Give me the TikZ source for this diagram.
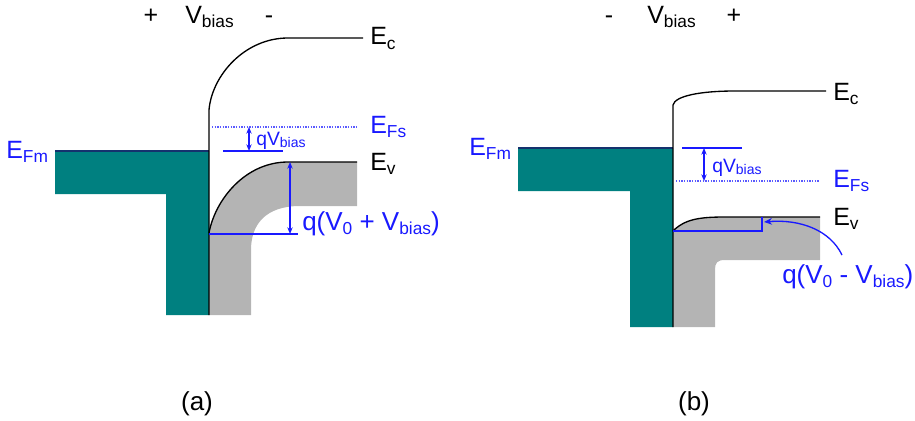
\documentclass[tikz,border=0pt]{standalone}
\usepackage{fontspec}
\setmainfont{Liberation Sans}
\usetikzlibrary{arrows.meta}
\definecolor{metal}{RGB}{0,128,128}
\definecolor{semi}{RGB}{180,180,180}
\definecolor{lblue}{RGB}{25,25,255}
\definecolor{dotblue}{RGB}{90,90,255}
\definecolor{efmline}{RGB}{20,50,110}
\newcommand\bsub[1]{\raisebox{-3.5pt}{\fontsize{13}{14}\selectfont #1}}
\newcommand\ssub[1]{\raisebox{-2pt}{\fontsize{10.5}{12}\selectfont #1}}
\begin{document}
\begin{tikzpicture}[x=0.75pt,y=-0.75pt,
  lab/.style={inner sep=0pt,anchor=base west,font=\fontsize{18.75}{22}\selectfont},
  clab/.style={inner sep=0pt,anchor=base,font=\fontsize{18.75}{22}\selectfont},
  slab/.style={inner sep=0pt,anchor=base west,font=\fontsize{14.5}{17}\selectfont,text=lblue},
  band/.style={line width=1pt,black},
  bluel/.style={line width=1.1pt,lblue},
  dbl/.style={line width=1pt,lblue,{Stealth[length=5pt,width=4pt]}-{Stealth[length=5pt,width=4pt]}},
  tipped/.style={line width=1pt,lblue,-{Stealth[length=6pt,width=5pt]}},
  fermi/.style={line width=0.9pt,dotblue,dash pattern=on 1pt off 1pt}]
\useasboundingbox (0,0) rectangle (915,421);

% ================= panel (a) =================
\fill[metal] (55,151) -- (209,151) -- (209,315) -- (166,315) -- (166,194) -- (55,194) -- cycle;
\draw[line width=1pt,efmline] (55,151) -- (209,151);
\fill[semi] (209,233) .. controls (215,200) and (245,162) .. (288,162) -- (357,162) -- (357,206)
  -- (300,206) .. controls (265,206) and (251,225) .. (251,250) -- (251,315) -- (209,315) -- cycle;
\draw[band] (209,315) -- (209,110) .. controls (212,75) and (245,38) .. (288,38) -- (363,38);
\draw[band] (209,233) .. controls (215,200) and (245,162) .. (288,162) -- (357,162);

\coordinate (aFs1) at (212,127); \coordinate (aFs2) at (357,127);
\draw[fermi] (aFs1) -- (aFs2);
\coordinate (aq1) at (223,151); \coordinate (aq2) at (283,151);
\draw[bluel] (aq1) -- (aq2);
\coordinate (aqt) at (249,127); \coordinate (aqb) at (249,151);
\draw[dbl] (aqt) -- (aqb);
\coordinate (aV1) at (209,234); \coordinate (aV2) at (298,234);
\draw[bluel] (aV1) -- (aV2);
\coordinate (aVt) at (290,162); \coordinate (aVb) at (290,234);
\draw[dbl] (aVt) -- (aVb);

\node[clab] (aplus) at (151,23) {+};
\node[lab] (avb) at (185,23) {V\bsub{bias}};
\node[clab] (aminus) at (269,23) {-};
\node[lab] (aEc) at (370,45) {E\bsub{c}};
\node[lab,text=lblue] (aEFs) at (370,133) {E\bsub{Fs}};
\node[lab] (aEv) at (370,170) {E\bsub{v}};
\node[lab,text=lblue] (aEFm) at (6,158) {E\bsub{Fm}};
\node[slab] (aqV) at (256,145) {qV\ssub{bias}};
\node[lab,text=lblue,font=\fontsize{19.5}{22}\selectfont] (aqV0) at (302,230) {q(V\bsub{0} + V\bsub{bias})};
\node[clab,font=\fontsize{19.5}{22}\selectfont] (acap) at (197,410) {(a)};

% ================= panel (b) =================
\fill[metal] (518,148) -- (673,148) -- (673,327) -- (630,327) -- (630,191) -- (518,191) -- cycle;
\draw[line width=1pt,efmline] (518,148) -- (673,148);
\fill[semi] (673,231) .. controls (685,219) and (700,217) .. (725,217) -- (820,217) -- (820,260)
  -- (725,260) .. controls (717,260) and (715,263) .. (715,270) -- (715,327) -- (673,327) -- cycle;
\draw[band] (673,327) -- (673,105) .. controls (675,96) and (700,91) .. (735,91) -- (826,91);
\draw[band] (673,231) .. controls (685,219) and (700,217) .. (725,217) -- (820,217);

\coordinate (bq1) at (682,148); \coordinate (bq2) at (742,148);
\draw[bluel] (bq1) -- (bq2);
\coordinate (bqt) at (704,148); \coordinate (bqb) at (704,181);
\draw[dbl] (bqt) -- (bqb);
\coordinate (bFs1) at (676,181); \coordinate (bFs2) at (820,181);
\draw[fermi] (bFs1) -- (bFs2);
\coordinate (bV1) at (673,231); \coordinate (bV2) at (762,231); \coordinate (bV3) at (762,217);
\draw[bluel] (bV1) -- (bV2) -- (bV3);
\coordinate (bArrS) at (842,255); \coordinate (bArrE) at (764,222);
\draw[tipped] (bArrS) .. controls (830,230) and (800,219) .. (bArrE);

\node[clab] (bminus) at (609,23) {-};
\node[lab] (bvb) at (647,23) {V\bsub{bias}};
\node[clab] (bplus) at (734,23) {+};
\node[lab] (bEc) at (833,100) {E\bsub{c}};
\node[lab,text=lblue] (bEFm) at (469,155) {E\bsub{Fm}};
\node[slab] (bqV) at (712,172) {qV\ssub{bias}};
\node[lab,text=lblue] (bEFs) at (833,187) {E\bsub{Fs}};
\node[lab] (bEv) at (833,225) {E\bsub{v}};
\node[lab,text=lblue,font=\fontsize{19.5}{22}\selectfont] (bqV0) at (782,283) {q(V\bsub{0} - V\bsub{bias})};
\node[clab,font=\fontsize{19.5}{22}\selectfont] (bcap) at (694,410) {(b)};
\end{tikzpicture}
\end{document}
